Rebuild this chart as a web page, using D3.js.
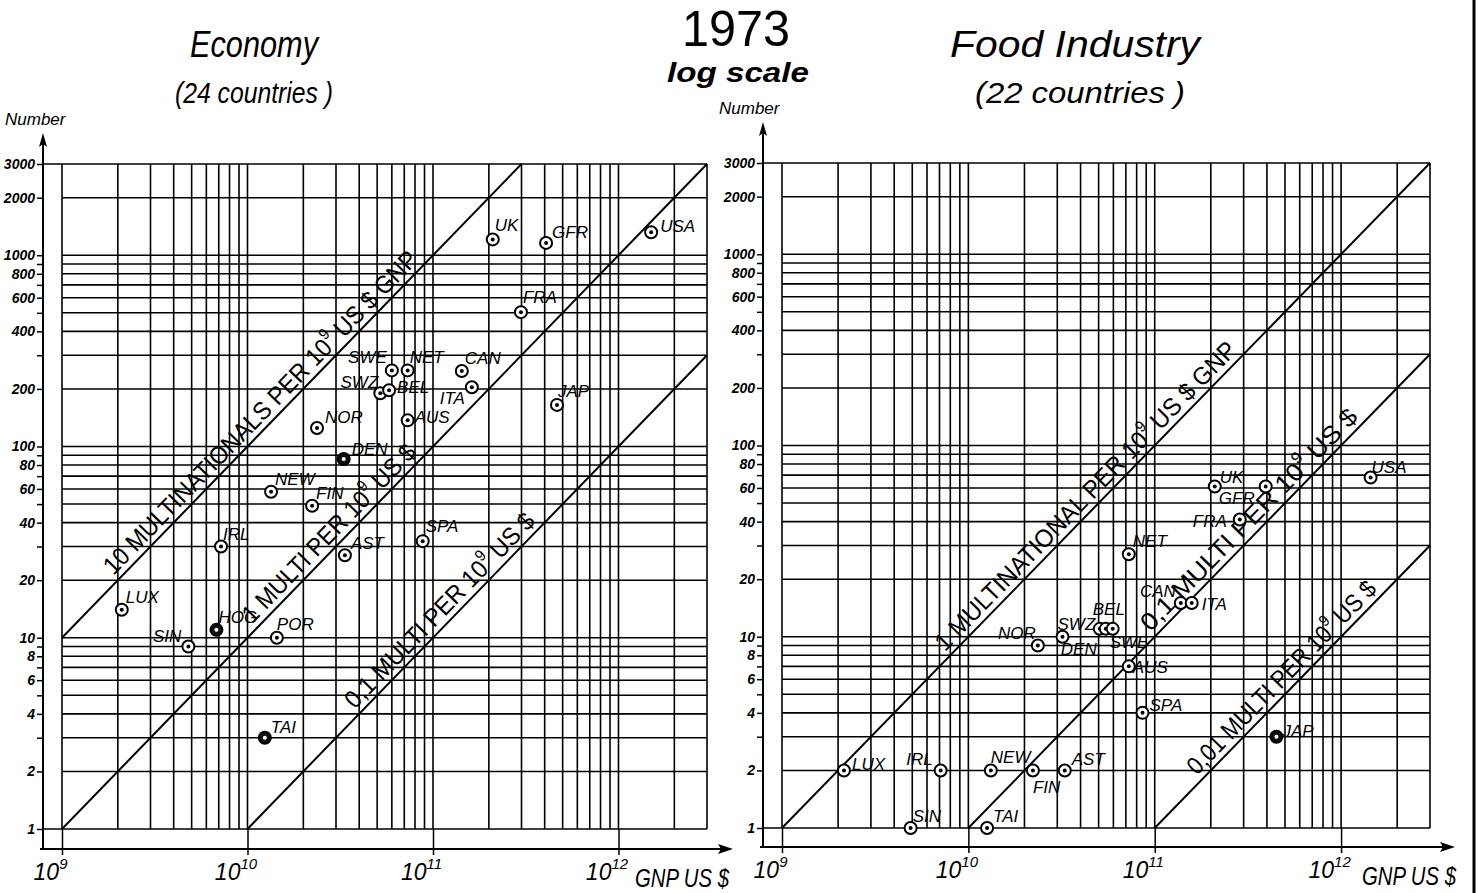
<!DOCTYPE html>
<html lang="en">
<head>
<meta charset="UTF-8">
<title>1973 log scale</title>
<script src="https://d3js.org/d3.v7.min.js"></script>
<style>
    body { margin: 0; background: #fff; }
    text { font-family: "Liberation Sans", Arial, sans-serif; fill: #000; }
</style>
</head>
<body>
<div id="chart"></div>
<script>

    // GNP in 10^9 US $, number of multinationals
    var econNames = ["LUX", "SIN", "HOG", "IRL", "POR", "TAI", "NEW", "FIN", "AST", "SPA", "NOR", "DEN",
                     "SWE", "NET", "SWZ", "BEL", "CAN", "ITA", "AUS", "UK", "GFR", "USA", "FRA", "JAP"];
    var econGnp = [2.1, 4.8, 6.8, 7.2, 14.4, 12.4, 13.4, 22.3, 33.5, 88, 23.7, 33,
                   60, 73, 52, 58, 143, 162, 73, 210, 407, 1500, 298, 466];
    var econCount = [14, 9, 11, 30, 10, 3, 58, 49, 27, 32, 125, 86,
                     250, 250, 190, 197, 248, 204, 137, 1210, 1160, 1320, 504, 165];

    var foodNames = ["LUX", "IRL", "SIN", "NEW", "FIN", "AST", "TAI", "NOR", "SWZ", "BEL", "DEN",
                     "SWE", "AUS", "SPA", "NET", "CAN", "ITA", "FRA", "GFR", "UK", "USA", "JAP"];
    var foodGnp = [2.15, 7.1, 4.9, 13.2, 22.2, 32.9, 12.6, 23.6, 32, 50.7, 54.6,
                   59.5, 72.6, 86, 72.6, 138, 158, 286, 394, 210, 1440, 450];
    var foodCount = [2, 2, 1, 2, 2, 2, 1, 9, 10, 11, 11,
                     11, 7, 4, 27, 15, 15, 41, 61, 61, 68, 3];

    var yTickLabels = [1, 2, 4, 6, 8, 10, 20, 40, 60, 80, 100, 200, 400, 600, 800, 1000, 2000, 3000];
    var xTickValues = [1, 10, 100, 1000];
    var xTickPowers = ["9", "10", "11", "12"];

    // multinationals per 10^9 US $ of GNP
    var econRates = [10, 1, 0.1];
    var econRateText = ["10 MULTINATIONALS PER ", "1 MULTI PER ", "0,1 MULTI PER "];
    var econRateTail = [" US $ GNP", " US $", " US $"];
    var foodRates = [1, 0.1, 0.01];
    var foodRateText = ["1 MULTINATIONAL PER ", "0,1 MULTI PER ", "0,01 MULTI PER "];
    var foodRateTail = [" US $ GNP", " US $", " US $"];

    var w = 1478;
    var h = 893;

    var svg = d3.select("#chart")
        .append("svg")
        .attr("width", w)
        .attr("height", h)
        .style("background", "#fff");

    var gridVals = [];
    for (let d = 0; d <= 3; d++) {
        for (let k = 1; k <= 9; k++) {
            let v = k * Math.pow(10, d);
            if (v <= 3000) gridVals.push(v);
        }
    }

    // label placement [dx, dy, anchor]
    var econLabelPos = {
        LUX: [4, -7, "start"], SIN: [-7, -5, "end"], HOG: [2, -7, "start"], IRL: [2, -7, "start"],
        POR: [0, -8, "start"], TAI: [6, -5, "start"], NEW: [4, -7, "start"], FIN: [4, -7, "start"],
        AST: [6, -6, "start"], SPA: [3, -9, "start"], NOR: [8, -5, "start"], DEN: [8, -4, "start"],
        SWE: [-5, -7, "end"], NET: [2, -7, "start"], SWZ: [-2, -5, "end"], BEL: [8, 3, "start"],
        CAN: [3, -7, "start"], ITA: [-7, 17, "end"], AUS: [7, 3, "start"], UK: [2, -8, "start"],
        GFR: [6, -5, "start"], USA: [9, 0, "start"], FRA: [2, -9, "start"], JAP: [1, -8, "start"]
    };
    var foodLabelPos = {
        LUX: [8, 0, "start"], IRL: [-8, -5, "end"], SIN: [2, -6, "start"], NEW: [0, -7, "start"],
        FIN: [0, 23, "start"], AST: [7, -5, "start"], TAI: [6, -6, "start"], NOR: [-2, -7, "end"],
        SWZ: [-5, -7, "start"], BEL: [-7, -14, "start"], DEN: [-9, 26, "end"], SWE: [-3, 19, "start"],
        AUS: [4, 7, "start"], SPA: [7, -2, "start"], NET: [4, -7, "start"], CAN: [-5, -6, "end"],
        ITA: [10, 7, "start"], FRA: [-13, 7, "end"], GFR: [-11, 17, "end"], UK: [5, -4, "start"],
        USA: [1, -5, "start"], JAP: [6, 0, "start"]
    };
    var econSolid = ["DEN", "TAI", "HOG"];
    var foodSolid = ["JAP"];

    function drawPanel(p) {
        var x = d3.scaleLog().domain([1, 3000]).range([p.left, p.right]);
        var y = d3.scaleLog().domain([1, 3000]).range([p.bottom, p.top]);
        var g = svg.append("g");

        // grid
        g.selectAll(".vg")
            .data(gridVals)
            .enter()
            .append("line")
            .attr("x1", d => x(d)).attr("x2", d => x(d))
            .attr("y1", y(3000)).attr("y2", y(1))
            .attr("stroke", "#000")
            .attr("stroke-width", 1.6);

        g.selectAll(".hg")
            .data(gridVals)
            .enter()
            .append("line")
            .attr("x1", d => (d === 1 || d === 3000) ? p.axisX : x(1))
            .attr("x2", x(3000))
            .attr("y1", d => y(d)).attr("y2", d => y(d))
            .attr("stroke", "#000")
            .attr("stroke-width", 1.6);

        // y axis ticks + labels
        var yAxis = d3.axisLeft(y)
            .tickValues(gridVals)
            .tickSize(6)
            .tickPadding(2)
            .tickFormat(d => yTickLabels.indexOf(d) >= 0 ? d : "");
        var ya = g.append("g")
            .attr("transform", "translate(" + p.axisX + ",0)")
            .call(yAxis);
        ya.select(".domain").remove();
        ya.selectAll("line").attr("stroke", "#000").attr("stroke-width", 1.5);
        ya.selectAll("text")
            .style("font-family", "'Liberation Sans', Arial, sans-serif")
            .style("font-size", "14px")
            .style("font-style", "italic")
            .style("font-weight", "bold")
            .attr("fill", "#000");

        // x axis ticks + labels
        var xAxis = d3.axisBottom(x)
            .tickValues(xTickValues)
            .tickSize(p.axisY - p.bottom + 6)
            .tickFormat("");
        var xa = g.append("g")
            .attr("transform", "translate(0," + p.bottom + ")")
            .call(xAxis);
        xa.select(".domain").remove();
        xa.selectAll("line").attr("stroke", "#000").attr("stroke-width", 1.5);
        xa.selectAll(".tick").each(function (d, i) {
            var t = d3.select(this).append("text")
                .attr("x", -12)
                .attr("y", p.axisY - p.bottom + 31)
                .style("font-size", "23px")
                .style("font-style", "italic")
                .attr("fill", "#000");
            t.append("tspan").text("10");
            t.append("tspan")
                .attr("dy", -11)
                .style("font-size", "15px")
                .text(xTickPowers[i]);
        });

        // axis lines with arrows
        g.append("line")
            .attr("x1", p.axisX).attr("x2", p.axisX)
            .attr("y1", p.axisY).attr("y2", p.arrowTop + 8)
            .attr("stroke", "#000").attr("stroke-width", 2);
        g.append("path")
            .attr("d", "M" + p.axisX + "," + p.arrowTop + "l-4,14l4,-3l4,3z")
            .attr("fill", "#000");
        g.append("line")
            .attr("x1", p.axisX - 3).attr("x2", p.arrowRight - 6)
            .attr("y1", p.axisY).attr("y2", p.axisY)
            .attr("stroke", "#000").attr("stroke-width", 2);
        g.append("path")
            .attr("d", "M" + p.arrowRight + "," + p.axisY + "l-15,-5l3,5l-3,5z")
            .attr("fill", "#000");

        g.append("text")
            .attr("x", p.numberX)
            .attr("y", p.numberY)
            .style("font-size", "17px")
            .style("font-style", "italic")
            .text("Number");

        g.append("text")
            .attr("x", p.gnpX)
            .attr("y", p.axisY + 38)
            .attr("textLength", p.gnpW)
            .attr("lengthAdjust", "spacingAndGlyphs")
            .style("font-size", "25px")
            .style("font-style", "italic")
            .text("GNP US $");

        // ratio lines N = rate * GNP
        p.rates.forEach(function (r, i) {
            var g0 = Math.max(1, 1 / r), g1 = Math.min(3000, 3000 / r);
            g.append("line")
                .attr("x1", x(g0)).attr("y1", y(r * g0))
                .attr("x2", x(g1)).attr("y2", y(r * g1))
                .attr("stroke", "#000")
                .attr("stroke-width", 2);

            var s = p.rateSpan[i];
            var x0 = x(s[0]), y0 = y(r * s[0]), x1 = x(s[1]), y1 = y(r * s[1]);
            var ang = Math.atan2(y1 - y0, x1 - x0) * 180 / Math.PI;
            var len = Math.hypot(x1 - x0, y1 - y0);
            var t = g.append("text")
                .attr("transform", "translate(" + x0 + "," + y0 + ")rotate(" + ang + ")")
                .attr("y", -6)
                .attr("textLength", len)
                .attr("lengthAdjust", "spacingAndGlyphs")
                .style("font-size", "25px");
            t.append("tspan").text(p.rateText[i] + "10");
            t.append("tspan").attr("dy", -12).style("font-size", "16px").text("9");
            t.append("tspan").attr("dy", 12).text(p.rateTail[i]);
        });

        // countries
        var pts = p.names.map((n, i) => ({name: n, gnp: p.gnp[i], count: p.count[i]}));
        var pg = g.selectAll(".pt")
            .data(pts)
            .enter()
            .append("g")
            .attr("transform", d => "translate(" + x(d.gnp) + "," + y(d.count) + ")");
        pg.append("circle")
            .attr("r", 6)
            .attr("fill", d => p.solid.indexOf(d.name) >= 0 ? "#111" : "#fff")
            .attr("stroke", "#000")
            .attr("stroke-width", 2);
        pg.append("circle")
            .attr("r", 2)
            .attr("fill", d => p.solid.indexOf(d.name) >= 0 ? "#fff" : "#000");
        pg.append("text")
            .attr("x", d => p.labelPos[d.name][0])
            .attr("y", d => p.labelPos[d.name][1])
            .attr("text-anchor", d => p.labelPos[d.name][2])
            .style("font-size", "17px")
            .style("font-style", "italic")
            .text(d => d.name);
    }

    drawPanel({
        left: 62, right: 707, top: 164, bottom: 829,
        axisX: 43, axisY: 849, arrowTop: 133, arrowRight: 733,
        numberX: 5, numberY: 125, gnpX: 635, gnpW: 94,
        names: econNames, gnp: econGnp, count: econCount,
        rates: econRates, rateText: econRateText, rateTail: econRateTail,
        rateSpan: [[2.0, 89], [11.2, 87], [40, 380]],
        labelPos: econLabelPos, solid: econSolid
    });

    drawPanel({
        left: 782, right: 1430, top: 163, bottom: 828,
        axisX: 763, axisY: 847, arrowTop: 122, arrowRight: 1455,
        numberX: 719, numberY: 114, gnpX: 1362, gnpW: 94,
        names: foodNames, gnp: foodGnp, count: foodCount,
        rates: foodRates, rateText: foodRateText, rateTail: foodRateTail,
        rateSpan: [[7.9, 295], [100, 1318], [178, 1660]],
        labelPos: foodLabelPos, solid: foodSolid
    });

    // titles
    function title(txt, cx, by, size, len, weight) {
        svg.append("text")
            .attr("x", cx)
            .attr("y", by)
            .attr("text-anchor", "middle")
            .attr("textLength", len)
            .attr("lengthAdjust", "spacingAndGlyphs")
            .style("font-size", size + "px")
            .style("font-style", "italic")
            .style("font-weight", weight || "normal")
            .text(txt);
    }
    title("Economy", 254, 57, 36, 128);
    title("(24 countries )", 254, 103, 30, 158);
    title("log scale", 738, 82, 28, 142, "bold");
    title("Food Industry", 1075, 57, 36, 250);
    title("(22 countries )", 1080, 103, 30, 210);

    svg.append("text")
        .attr("x", 736)
        .attr("y", 46)
        .attr("text-anchor", "middle")
        .attr("textLength", 108)
        .attr("lengthAdjust", "spacingAndGlyphs")
        .style("font-size", "50px")
        .text("1973");

    // page edge
    svg.append("line")
        .attr("x1", 1474).attr("x2", 1474)
        .attr("y1", 0).attr("y2", h)
        .attr("stroke", "#000")
        .attr("stroke-width", 3);

</script>
</body>
</html>
